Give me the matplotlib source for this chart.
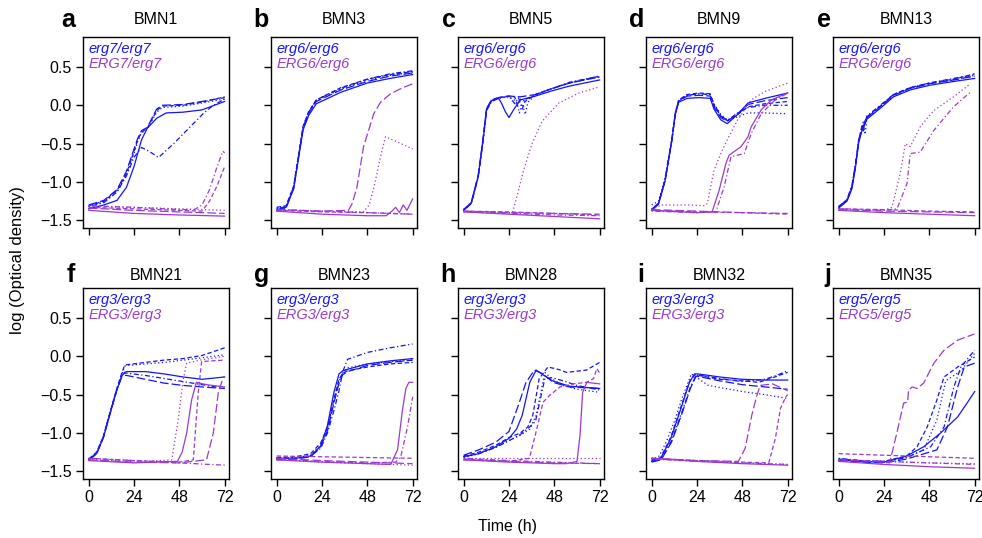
import matplotlib
matplotlib.use("Agg")
import matplotlib.pyplot as plt

plt.rcParams['font.family'] = ['Liberation Sans', 'DejaVu Sans']

# strains, panel letters and genotype labels
strains = ['BMN1', 'BMN3', 'BMN5', 'BMN9', 'BMN13',
           'BMN21', 'BMN23', 'BMN28', 'BMN32', 'BMN35']
letters = ['a', 'b', 'c', 'd', 'e', 'f', 'g', 'h', 'i', 'j']
homozygous = ['erg7/erg7', 'erg6/erg6', 'erg6/erg6', 'erg6/erg6', 'erg6/erg6',
              'erg3/erg3', 'erg3/erg3', 'erg3/erg3', 'erg3/erg3', 'erg5/erg5']
heterozygous = ['ERG7/erg7', 'ERG6/erg6', 'ERG6/erg6', 'ERG6/erg6', 'ERG6/erg6',
                'ERG3/erg3', 'ERG3/erg3', 'ERG3/erg3', 'ERG3/erg3', 'ERG5/erg5']

x_ticks = [0, 24, 48, 72]
y_ticks = [-1.5, -1.0, -0.5, 0.0, 0.5]

# growth curves: five replicates per genotype, each (time h, log OD)
bmn1_blue = [
    ([0, 8, 15, 20, 24, 28, 31, 36, 41, 50, 60, 72],
     [-1.35, -1.30, -1.24, -1.07, -0.80, -0.45, -0.30, -0.17, -0.10, -0.09, -0.06, 0.05]),
    ([0, 8, 15, 20, 24, 26, 28, 31, 36, 39, 50, 60, 72],
     [-1.31, -1.25, -1.11, -0.89, -0.60, -0.45, -0.35, -0.30, -0.07, -0.01, 0.00, 0.04, 0.11]),
    ([0, 8, 15, 20, 24, 26, 28, 31, 36, 39, 50, 60, 72],
     [-1.32, -1.26, -1.13, -0.91, -0.63, -0.47, -0.36, -0.31, -0.09, -0.03, -0.01, 0.03, 0.08]),
    ([0, 8, 15, 20, 24, 28, 32, 37, 45, 53, 61, 66, 72],
     [-1.32, -1.27, -1.13, -0.92, -0.68, -0.55, -0.60, -0.68, -0.50, -0.30, -0.10, 0.00, 0.08]),
    ([0, 8, 15, 20, 24, 26, 28, 31, 36, 39, 50, 60, 72],
     [-1.30, -1.24, -1.10, -0.86, -0.57, -0.43, -0.33, -0.29, -0.05, 0.00, 0.01, 0.05, 0.10]),
]
bmn1_purple = [
    ([0, 24, 48, 72], [-1.37, -1.41, -1.43, -1.445]),
    ([0, 24, 48, 60, 64, 68, 72], [-1.33, -1.35, -1.37, -1.38, -1.25, -1.05, -0.80]),
    ([0, 24, 48, 72], [-1.32, -1.33, -1.35, -1.37]),
    ([0, 24, 48, 56, 60, 64, 68, 71, 72], [-1.31, -1.33, -1.36, -1.36, -1.30, -1.10, -0.80, -0.60, -0.62]),
    ([0, 24, 48, 72], [-1.34, -1.37, -1.39, -1.41]),
]

bmn3_t = [0, 5, 9, 11.5, 14, 17, 21, 34, 48, 60, 72]
bmn3_blue = [
    (bmn3_t, [-1.36, -1.33, -1.09, -0.70, -0.32, -0.13, 0.02, 0.17, 0.29, 0.35, 0.40]),
    (bmn3_t, [-1.33, -1.31, -1.05, -0.66, -0.27, -0.08, 0.07, 0.23, 0.34, 0.40, 0.44]),
    (bmn3_t, [-1.34, -1.32, -1.06, -0.67, -0.28, -0.09, 0.06, 0.21, 0.33, 0.39, 0.43]),
    (bmn3_t, [-1.35, -1.32, -1.07, -0.68, -0.29, -0.09, 0.07, 0.22, 0.34, 0.41, 0.45]),
    (bmn3_t, [-1.38, -1.34, -1.08, -0.69, -0.30, -0.10, 0.05, 0.20, 0.31, 0.38, 0.42]),
]
bmn3_purple = [
    ([0, 24, 48, 58, 61, 63, 65, 67, 69, 72],
     [-1.38, -1.42, -1.44, -1.44, -1.38, -1.33, -1.40, -1.30, -1.37, -1.22]),
    ([0, 24, 48, 72], [-1.37, -1.39, -1.40, -1.42]),
    ([0, 24, 46, 49, 51.5, 55, 57.6, 64, 72],
     [-1.36, -1.38, -1.39, -1.30, -1.07, -0.67, -0.41, -0.48, -0.57]),
    ([0, 24, 48, 72], [-1.36, -1.38, -1.40, -1.42]),
    ([0, 24, 38, 40, 42.5, 46, 51.4, 55, 60.3, 66, 72],
     [-1.36, -1.38, -1.37, -1.28, -1.07, -0.54, -0.11, 0.04, 0.15, 0.22, 0.28]),
]

bmn5_blue = [
    ([0, 4, 7.7, 10.3, 12.1, 14.8, 18.4, 20, 22, 24, 26.4, 30, 38, 47, 56, 72],
     [-1.37, -1.28, -0.93, -0.45, -0.06, 0.06, 0.09, 0.03, -0.08, -0.16, -0.06, 0.07, 0.12, 0.19, 0.25, 0.33]),
    ([0, 4, 7.7, 10.3, 12.1, 14.8, 18.4, 24, 27, 28.5, 30, 32.6, 38, 47, 56, 72],
     [-1.36, -1.27, -0.92, -0.44, -0.05, 0.07, 0.10, 0.12, 0.11, 0.00, 0.08, 0.05, 0.14, 0.22, 0.29, 0.38]),
    ([0, 4, 7.7, 10.3, 12.1, 14.8, 18.4, 24, 28, 29.5, 31, 32.6, 34, 38, 47, 56, 72],
     [-1.36, -1.28, -0.93, -0.45, -0.06, 0.06, 0.09, 0.11, 0.05, -0.10, 0.02, -0.12, 0.04, 0.13, 0.22, 0.29, 0.37]),
    ([0, 4, 7.7, 10.3, 12.1, 14.8, 18.4, 24, 27, 29, 31, 33, 38, 47, 56, 72],
     [-1.37, -1.28, -0.94, -0.46, -0.07, 0.05, 0.09, 0.12, 0.02, 0.10, -0.05, 0.08, 0.14, 0.22, 0.30, 0.38]),
    ([0, 4, 7.7, 10.3, 12.1, 14.8, 18.4, 24, 30, 38, 47, 56, 72],
     [-1.36, -1.27, -0.91, -0.43, -0.04, 0.07, 0.10, 0.12, 0.11, 0.14, 0.22, 0.29, 0.37]),
]
bmn5_purple = [
    ([0, 24, 48, 72], [-1.39, -1.42, -1.45, -1.48]),
    ([0, 24, 48, 72], [-1.38, -1.39, -1.41, -1.43]),
    ([0, 24, 26, 29, 31.7, 36.2, 41.5, 50.4, 61, 72],
     [-1.38, -1.40, -1.39, -1.11, -0.85, -0.50, -0.21, 0.03, 0.16, 0.24]),
    ([0, 24, 48, 72], [-1.39, -1.41, -1.43, -1.44]),
    ([0, 24, 48, 72], [-1.38, -1.40, -1.41, -1.42]),
]

bmn9_t = [0, 3.6, 7.1, 10.7, 12.5, 14.3, 18.8, 25, 31, 33, 36.6, 40, 45.5, 51, 60, 72]
bmn9_blue = [
    (bmn9_t, [-1.37, -1.29, -0.99, -0.46, -0.12, 0.04, 0.09, 0.10, 0.09, -0.05, -0.19, -0.24, -0.12, 0.03, 0.09, 0.16]),
    (bmn9_t, [-1.36, -1.28, -0.97, -0.44, -0.10, 0.07, 0.14, 0.16, 0.15, 0.00, -0.14, -0.20, -0.12, -0.02, 0.02, 0.05]),
    (bmn9_t, [-1.30, -1.25, -0.95, -0.44, -0.10, 0.06, 0.13, 0.15, 0.14, 0.02, -0.12, -0.19, -0.15, -0.10, -0.10, -0.11]),
    (bmn9_t, [-1.35, -1.28, -0.97, -0.45, -0.11, 0.06, 0.13, 0.15, 0.14, 0.01, -0.13, -0.20, -0.10, -0.03, 0.00, 0.00]),
    (bmn9_t, [-1.36, -1.28, -0.98, -0.45, -0.11, 0.05, 0.12, 0.13, 0.12, -0.02, -0.16, -0.21, -0.11, 0.01, 0.06, 0.10]),
]
bmn9_purple = [
    ([0, 24, 32, 35.7, 39.3, 41, 47.3, 51, 52.7, 58, 63.4, 72],
     [-1.37, -1.40, -1.39, -1.11, -0.76, -0.65, -0.54, -0.41, -0.28, -0.06, 0.07, 0.16]),
    ([0, 24, 48, 72], [-1.37, -1.39, -1.40, -1.42]),
    ([0, 5, 20, 28, 29.5, 33, 36.6, 40, 45.5, 52.7, 60, 72],
     [-1.36, -1.30, -1.30, -1.31, -1.28, -0.85, -0.63, -0.45, -0.19, 0.07, 0.18, 0.29]),
    ([0, 24, 34, 38.4, 42, 49, 52.7, 58, 65, 72],
     [-1.38, -1.40, -1.39, -1.06, -0.67, -0.63, -0.37, -0.11, 0.06, 0.16]),
    ([0, 24, 48, 72], [-1.36, -1.38, -1.40, -1.41]),
]

bmn13_t = [0, 4.4, 7, 8.8, 10.6, 12.3, 13, 14, 15, 22, 29, 37.9, 48, 60.8, 72]
bmn13_blue = [
    (bmn13_t, [-1.34, -1.25, -1.09, -0.83, -0.49, -0.33, -0.29, -0.24, -0.18, -0.04, 0.11, 0.20, 0.26, 0.31, 0.35]),
    (bmn13_t, [-1.32, -1.23, -1.06, -0.79, -0.45, -0.29, -0.25, -0.20, -0.15, -0.01, 0.14, 0.23, 0.29, 0.34, 0.41]),
    (bmn13_t, [-1.33, -1.24, -1.07, -0.80, -0.44, -0.33, -0.22, -0.38, -0.16, -0.02, 0.13, 0.22, 0.28, 0.33, 0.39]),
    (bmn13_t, [-1.33, -1.23, -1.05, -0.78, -0.46, -0.27, -0.35, -0.21, -0.14, 0.00, 0.14, 0.23, 0.29, 0.35, 0.40]),
    (bmn13_t, [-1.32, -1.24, -1.07, -0.81, -0.47, -0.31, -0.27, -0.22, -0.16, -0.02, 0.13, 0.22, 0.28, 0.33, 0.38]),
]
bmn13_purple = [
    ([0, 24, 48, 72], [-1.37, -1.40, -1.42, -1.44]),
    ([0, 24, 48, 72], [-1.35, -1.36, -1.38, -1.39]),
    ([0, 24, 28.2, 32.6, 35.3, 37.9, 43.2, 50.3, 60.8, 69.7],
     [-1.35, -1.37, -1.33, -0.89, -0.50, -0.54, -0.28, -0.07, 0.11, 0.28]),
    ([0, 24, 30.9, 36.2, 37.9, 43.2, 50.3, 60.8, 69.7],
     [-1.35, -1.37, -1.35, -1.02, -0.63, -0.61, -0.33, -0.02, 0.17]),
    ([0, 24, 48, 72], [-1.36, -1.38, -1.39, -1.40]),
]

bmn21_t = [0, 4.2, 7.8, 11.3, 14.8, 17.5, 19, 20.1, 30, 40, 50, 60, 72]
bmn21_blue = [
    (bmn21_t, [-1.35, -1.27, -1.06, -0.75, -0.45, -0.26, -0.21, -0.20, -0.20, -0.23, -0.27, -0.30, -0.27]),
    (bmn21_t, [-1.34, -1.25, -1.04, -0.73, -0.43, -0.22, -0.12, -0.11, -0.08, -0.05, -0.03, 0.01, 0.11]),
    (bmn21_t, [-1.34, -1.26, -1.05, -0.74, -0.44, -0.24, -0.13, -0.12, -0.10, -0.08, -0.05, -0.02, 0.02]),
    (bmn21_t, [-1.35, -1.26, -1.05, -0.74, -0.44, -0.25, -0.22, -0.22, -0.25, -0.29, -0.33, -0.37, -0.42]),
    (bmn21_t, [-1.36, -1.27, -1.06, -0.75, -0.45, -0.27, -0.25, -0.25, -0.30, -0.35, -0.38, -0.40, -0.42]),
]
bmn21_purple = [
    ([0, 24, 47, 49.5, 51.9, 54.5, 57, 62.4, 72],
     [-1.36, -1.39, -1.37, -1.25, -1.00, -0.57, -0.34, -0.37, -0.40]),
    ([0, 24, 48, 55.4, 58, 59.8, 65, 72],
     [-1.33, -1.36, -1.38, -1.35, -0.48, -0.07, -0.06, -0.05]),
    ([0, 24, 44, 47.4, 50, 51.9, 58.9, 72],
     [-1.34, -1.38, -1.35, -0.83, -0.31, -0.09, -0.05, 0.00]),
    ([0, 24, 48, 72], [-1.33, -1.36, -1.39, -1.42]),
    ([0, 24, 48, 62.4, 66, 68.6, 71.3, 72],
     [-1.35, -1.38, -1.39, -1.35, -1.00, -0.48, -0.27, -0.26]),
]

bmn23_t = [0, 10, 18, 23.3, 26.9, 30.4, 33, 35, 37.5, 48, 60, 72]
bmn23_blue = [
    (bmn23_t, [-1.33, -1.33, -1.30, -1.17, -0.90, -0.46, -0.23, -0.19, -0.17, -0.10, -0.06, -0.03]),
    (bmn23_t, [-1.32, -1.31, -1.27, -1.13, -0.93, -0.55, -0.30, -0.22, -0.19, -0.14, -0.10, -0.08]),
    (bmn23_t, [-1.33, -1.32, -1.29, -1.16, -0.95, -0.58, -0.33, -0.22, -0.15, -0.10, -0.07, -0.05]),
    (bmn23_t, [-1.34, -1.33, -1.30, -1.20, -1.00, -0.70, -0.45, -0.20, -0.04, 0.05, 0.11, 0.16]),
    (bmn23_t, [-1.35, -1.34, -1.31, -1.18, -0.97, -0.60, -0.35, -0.24, -0.20, -0.12, -0.08, -0.05]),
]
bmn23_purple = [
    ([0, 24, 48, 60.4, 64, 66.6, 68.4, 70, 72],
     [-1.35, -1.38, -1.40, -1.41, -1.22, -0.70, -0.42, -0.34, -0.34]),
    ([0, 24, 48, 72], [-1.30, -1.31, -1.32, -1.33]),
    ([0, 24, 48, 72], [-1.35, -1.38, -1.40, -1.42]),
    ([0, 24, 48, 63, 65.7, 69.3, 72], [-1.34, -1.37, -1.39, -1.38, -1.31, -0.92, -0.53]),
    ([0, 24, 48, 72], [-1.33, -1.36, -1.38, -1.40]),
]

bmn28_blue = [
    ([0, 8, 17, 24, 28, 31, 35, 38.4, 42, 47, 56, 72],
     [-1.31, -1.27, -1.18, -1.07, -0.95, -0.77, -0.34, -0.18, -0.24, -0.32, -0.39, -0.42]),
    ([0, 8, 17, 24, 30, 34, 36.6, 40, 44.6, 50, 54.5, 65, 72],
     [-1.30, -1.25, -1.16, -1.06, -1.00, -0.92, -0.77, -0.29, -0.14, -0.17, -0.21, -0.18, -0.08]),
    ([0, 8, 17, 24, 30, 35, 38.4, 43, 47, 52.7, 60, 72],
     [-1.32, -1.27, -1.18, -1.10, -1.03, -0.95, -0.77, -0.21, -0.30, -0.38, -0.43, -0.47]),
    ([0, 8, 17, 24, 30, 35, 38, 43, 47, 52.7, 60, 72],
     [-1.31, -1.27, -1.19, -1.10, -1.02, -0.92, -0.85, -0.29, -0.28, -0.32, -0.38, -0.44]),
    ([0, 8, 17, 24, 29.5, 33, 37.5, 42, 47.3, 56, 72],
     [-1.29, -1.22, -1.12, -0.98, -0.60, -0.34, -0.18, -0.23, -0.34, -0.40, -0.42]),
]
bmn28_purple = [
    ([0, 24, 48, 54.5, 60, 61.6, 63, 65.2, 72],
     [-1.35, -1.38, -1.40, -1.40, -1.37, -1.03, -0.47, -0.34, -0.36]),
    ([0, 24, 34.8, 38.4, 42, 45.5, 51, 58, 65, 68.8, 70.5, 72],
     [-1.34, -1.37, -1.33, -0.98, -0.60, -0.51, -0.40, -0.36, -0.34, -0.29, -0.16, -0.22]),
    ([0, 24, 48, 72], [-1.33, -1.33, -1.33, -1.33]),
    ([0, 24, 48, 72], [-1.33, -1.36, -1.38, -1.40]),
    ([0, 24, 48, 72], [-1.35, -1.37, -1.39, -1.40]),
]

bmn32_blue = [
    ([0, 4.8, 10.2, 15.5, 20, 22.7, 24.5, 36, 47.7, 60, 72],
     [-1.37, -1.33, -1.07, -0.68, -0.34, -0.23, -0.23, -0.27, -0.30, -0.31, -0.31]),
    ([0, 4.8, 10.2, 15.5, 20, 23, 25, 36, 48, 56.6, 64, 72],
     [-1.36, -1.32, -1.05, -0.66, -0.33, -0.24, -0.25, -0.30, -0.32, -0.34, -0.28, -0.21]),
    ([0, 4, 8, 12, 16, 21, 30, 48, 60, 72],
     [-1.35, -1.30, -1.10, -0.85, -0.55, -0.23, -0.38, -0.46, -0.50, -0.55]),
    ([0, 5, 10.5, 16, 20.5, 23.5, 26, 36, 48, 60, 66, 72],
     [-1.36, -1.34, -1.10, -0.73, -0.40, -0.25, -0.25, -0.29, -0.33, -0.30, -0.25, -0.19]),
    ([0, 5, 10.5, 16, 20.5, 23.5, 26, 36, 48, 60, 72],
     [-1.38, -1.35, -1.12, -0.75, -0.42, -0.26, -0.27, -0.32, -0.37, -0.40, -0.43]),
]
bmn32_purple = [
    ([0, 24, 48, 72], [-1.33, -1.37, -1.40, -1.42]),
    ([0, 24, 48, 62, 65.5, 68.2, 71, 72], [-1.33, -1.36, -1.38, -1.39, -1.07, -0.68, -0.53, -0.50]),
    ([0, 24, 48, 72], [-1.33, -1.36, -1.39, -1.41]),
    ([0, 24, 48, 72], [-1.34, -1.37, -1.39, -1.41]),
    ([0, 24, 45.9, 49.5, 53, 55.7, 57.5, 64, 72],
     [-1.33, -1.36, -1.37, -1.20, -0.77, -0.51, -0.38, -0.36, -0.45]),
]

bmn35_blue = [
    ([0, 12, 24, 36, 45, 54, 63, 68, 72],
     [-1.35, -1.37, -1.38, -1.30, -1.18, -1.00, -0.79, -0.61, -0.46]),
    ([0, 12, 24, 36, 41.5, 46.9, 52, 55.8, 63, 72],
     [-1.34, -1.36, -1.37, -1.30, -1.18, -0.92, -0.57, -0.27, -0.14, -0.01]),
    ([0, 12, 24, 36, 45, 52, 56.7, 64.7, 72],
     [-1.35, -1.37, -1.38, -1.32, -1.22, -0.83, -0.32, -0.19, 0.04]),
    ([0, 12, 24, 36, 48.7, 55.8, 61, 64.7, 72],
     [-1.33, -1.36, -1.37, -1.32, -1.18, -0.92, -0.40, -0.14, 0.08]),
    ([0, 12, 24, 36, 52, 57.6, 63, 66.5, 72],
     [-1.36, -1.38, -1.39, -1.34, -1.22, -0.92, -0.40, -0.14, -0.09]),
]
bmn35_purple = [
    ([0, 24, 48, 72], [-1.37, -1.41, -1.44, -1.46]),
    ([0, 24, 48, 72], [-1.27, -1.29, -1.31, -1.33]),
    ([0, 24, 48, 72], [-1.36, -1.37, -1.39, -1.40]),
    ([0, 24, 48, 72], [-1.35, -1.37, -1.39, -1.41]),
    ([0, 24, 27, 30.8, 34.4, 36.5, 37, 38.9, 41.5, 45, 50.4, 55.8, 63, 71.8],
     [-1.35, -1.38, -1.39, -1.00, -0.61, -0.60, -0.44, -0.40, -0.42, -0.35, -0.09, 0.08, 0.21, 0.29]),
]

blue_curves = [bmn1_blue, bmn3_blue, bmn5_blue, bmn9_blue, bmn13_blue,
               bmn21_blue, bmn23_blue, bmn28_blue, bmn32_blue, bmn35_blue]
purple_curves = [bmn1_purple, bmn3_purple, bmn5_purple, bmn9_purple, bmn13_purple,
                 bmn21_purple, bmn23_purple, bmn28_purple, bmn32_purple, bmn35_purple]

# R-like line types for the five replicates
replicate_styles = ['-', (0, (3.5, 2)), (0, (1, 2)), (0, (1, 2, 4, 2)), (0, (7, 2.5))]
BLUE = '#1414F5'
PURPLE = '#9A3ACF'

W, H = 982, 538
fig = plt.figure(figsize=(W / 100, H / 100), dpi=100)

col_left = [83, 271, 458, 646, 833]
row_top = [37, 288]
ax_w, ax_h = 146, 191

for k, name in enumerate(strains):
    row, col = divmod(k, 5)
    left, top = col_left[col], row_top[row]
    ax = fig.add_axes([left / W, 1 - (top + ax_h) / H, ax_w / W, ax_h / H])

    for style, (t, y) in zip(replicate_styles, blue_curves[k]):
        ax.plot(t, y, color=BLUE, lw=0.9, ls=style)
    for style, (t, y) in zip(replicate_styles, purple_curves[k]):
        ax.plot(t, y, color=PURPLE, lw=0.9, ls=style)

    ax.set_xlim(-3, 74.3)
    ax.set_ylim(-1.60, 0.89)
    ax.set_xticks(x_ticks)
    ax.set_yticks(y_ticks)
    ax.tick_params(direction='out', length=5, width=1, labelsize=11.5, pad=3)
    if col == 0:
        ax.set_yticklabels([f'{v:.1f}'.replace('-', '\u2212') for v in y_ticks])
    else:
        ax.set_yticklabels([])
    if row == 1:
        ax.set_xticklabels([str(v) for v in x_ticks])
    else:
        ax.set_xticklabels([])
    for sp in ax.spines.values():
        sp.set_linewidth(1.0)

    ax.text(0.035, 0.935, homozygous[k], transform=ax.transAxes, color=BLUE,
            style='italic', fontsize=10.5, va='center', ha='left')
    ax.text(0.035, 0.86, heterozygous[k], transform=ax.transAxes, color=PURPLE,
            style='italic', fontsize=10.5, va='center', ha='left')

    ty = 1 - (20 if row == 0 else 275) / H
    fig.text((left + ax_w / 2) / W, ty, name, ha='center', va='center', fontsize=11.5)
    lx = 75 if col == 0 else left - 2
    fig.text(lx / W, ty, letters[k], ha='right', va='center',
             fontsize=18, fontweight='bold')

fig.text(18 / W, 1 - 260 / H, 'log (Optical density)', rotation=90,
         ha='center', va='center', fontsize=12)
fig.text(508 / W, 1 - 526 / H, 'Time (h)', ha='center', va='center', fontsize=11.5)

fig.savefig('out.png', dpi=100)
